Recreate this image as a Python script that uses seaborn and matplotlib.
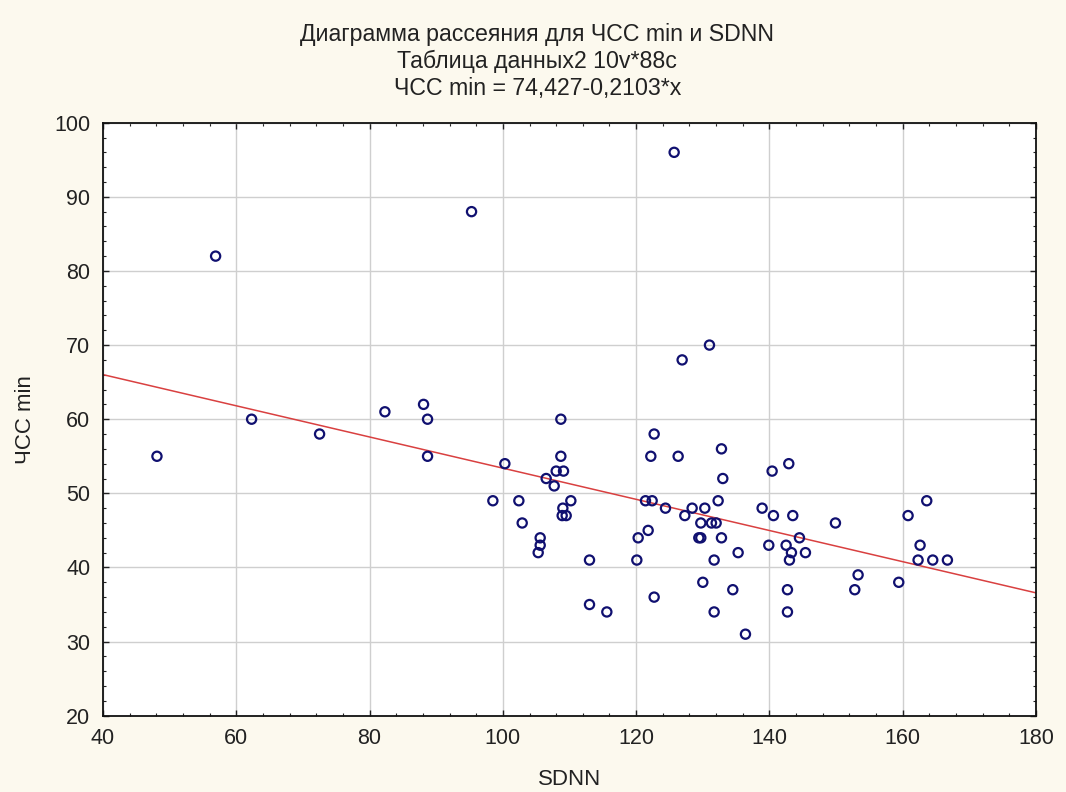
import numpy as np
import pandas as pd
import matplotlib
matplotlib.use("Agg")
import matplotlib.pyplot as plt
from matplotlib.ticker import MultipleLocator
import seaborn as sns

# SDNN (x) and ЧСС min (y)
sdnn = [48.1, 56.9, 62.3, 72.5, 82.3, 88.1, 88.7, 88.7, 95.3, 98.5,
        100.3, 102.4, 102.9, 105.3, 105.6, 105.6, 106.5, 107.7, 108.0, 109.1,
        108.7, 108.7, 109.0, 108.9, 109.5, 110.2, 113.0, 113.0, 115.6, 120.1,
        120.3, 121.4, 122.4, 121.8, 122.2, 122.7, 122.7, 124.4, 125.7, 126.3,
        126.9, 127.3, 128.4, 129.7, 129.7, 129.4, 130.0, 130.3, 131.0, 131.3,
        132.0, 131.7, 131.7, 132.3, 132.8, 132.8, 133.0, 134.5, 135.3, 136.4,
        138.9, 139.9, 140.4, 140.6, 142.5, 142.7, 142.7, 142.9, 143.0, 143.3,
        143.5, 144.5, 145.4, 149.9, 152.8, 153.3, 159.4, 160.8, 162.3, 162.6,
        163.6, 164.5, 166.7]
hr_min = [55, 82, 60, 58, 61, 62, 60, 55, 88, 49,
          54, 49, 46, 42, 44, 43, 52, 51, 53, 53,
          60, 55, 48, 47, 47, 49, 41, 35, 34, 41,
          44, 49, 49, 45, 55, 58, 36, 48, 96, 55,
          68, 47, 48, 46, 44, 44, 38, 48, 70, 46,
          46, 41, 34, 49, 56, 44, 52, 37, 42, 31,
          48, 43, 53, 47, 43, 37, 34, 54, 41, 42,
          47, 44, 42, 46, 37, 39, 38, 47, 41, 43,
          49, 41, 41]

# regression from the chart subtitle
intercept = 74.427
slope = -0.2103

df = pd.DataFrame({"SDNN": sdnn, "ЧСС min": hr_min})

sns.set_style("ticks")
plt.rcParams["font.family"] = ["Liberation Sans", "DejaVu Sans"]

bg = "#fcf9ee"
fig = plt.figure(figsize=(10.66, 7.92), dpi=100, facecolor=bg)
ax = fig.add_axes([0.0966, 0.0963, 0.8753, 0.7488])
ax.set_facecolor("white")

# fit line across the whole x range
line_x = np.array([40, 180])
sns.lineplot(x=line_x, y=intercept + slope * line_x, ax=ax,
             color="#d94040", lw=1.1, zorder=2)

sns.scatterplot(data=df, x="SDNN", y="ЧСС min", ax=ax, marker="o",
                facecolor="none", edgecolor="#101070", linewidth=1.6,
                s=44, zorder=3)

ax.set_xlim(40, 180)
ax.set_ylim(20, 100)
ax.xaxis.set_major_locator(MultipleLocator(20))
ax.xaxis.set_minor_locator(MultipleLocator(4))
ax.yaxis.set_major_locator(MultipleLocator(10))
ax.yaxis.set_minor_locator(MultipleLocator(2))
ax.grid(True, which="major", color="#cfcfcf", lw=1)
ax.set_axisbelow(True)
ax.tick_params(which="both", direction="in", top=True, right=True,
               colors="#222222", labelsize=15.5, labelcolor="#222222")
ax.tick_params(which="major", length=4, width=1, pad=9)
ax.tick_params(which="minor", length=2.5, width=0.8)
for sp in ax.spines.values():
    sp.set_color("#111111")
    sp.set_linewidth(1.3)

ax.set_xlabel("SDNN", fontsize=16, color="#222222", labelpad=14)
ax.set_ylabel("ЧСС min", fontsize=16, color="#222222", labelpad=13)

titles = ["Диаграмма рассеяния для ЧСС min и SDNN",
          "Таблица данных2 10v*88c",
          "ЧСС min = 74,427-0,2103*x"]
for i, t in enumerate(titles):
    fig.text(0.504, 1 - (41 + 27 * i) / 792, t, ha="center", va="baseline",
             fontsize=16.7, color="#222222")

fig.savefig("out.png", dpi=100, facecolor=bg)
